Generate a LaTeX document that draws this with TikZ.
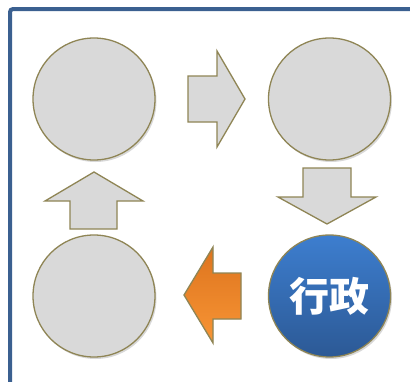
\documentclass[tikz,border=0pt]{standalone}
\usepackage{fontspec}
\newfontfamily\cjk{Noto Sans CJK JP}
\usetikzlibrary{shadows}
\definecolor{frameblue}{HTML}{3B6090}
\definecolor{olive}{HTML}{8F8555}
\definecolor{cgray}{HTML}{D9D9D9}
\definecolor{btop}{HTML}{3D7ECF}
\definecolor{bbot}{HTML}{2C5995}
\definecolor{otop}{HTML}{DD741E}
\definecolor{obot}{HTML}{F89535}
\tikzset{
  bubble/.style={circle, minimum size=122pt, inner sep=0pt, draw=olive, line width=1.3pt, fill=cgray,
    drop shadow={shadow xshift=1.5pt, shadow yshift=-2pt, opacity=0.25, fill=black!60}},
  arrowshape/.style={draw=olive, line width=1.3pt, fill=cgray, line join=miter}
}
\begin{document}
\begin{tikzpicture}[x=1pt,y=-1pt]
\useasboundingbox (0,0) rectangle (410,381);
\fill[white] (0,0) rectangle (410,381);
\begin{scope}
\clip (0,0) rectangle (410,381);
\draw[frameblue, line width=4pt, rounded corners=3pt] (10,9) rectangle (430,400);
\end{scope}
% circles
\node[bubble] (tl) at (94,99) {};
\node[bubble] (tr) at (329.5,99) {};
\node[bubble] (bl) at (94,296) {};
\node[bubble, top color=btop, bottom color=bbot, text=white, font=\cjk\bfseries\fontsize{40}{40}\selectfont] (br) at (329.5,296) {行政};
% right arrow
\draw[arrowshape] (188,76) -- (217,76) -- (217,51) -- (245,99) -- (217,147) -- (217,122) -- (188,122) -- cycle;
% down arrow
\draw[arrowshape] (303,168) -- (351,168) -- (351,197) -- (376,197) -- (327,224) -- (278,197) -- (303,197) -- cycle;
% up arrow
\draw[arrowshape] (70,229) -- (70,201) -- (45,201) -- (94,172) -- (143,201) -- (117,201) -- (117,229) -- cycle;
% left arrow (orange)
\draw[arrowshape, top color=otop, bottom color=obot] (241,273) -- (213,273) -- (213,247) -- (184,295) -- (213,343) -- (213,319) -- (241,319) -- cycle;
\end{tikzpicture}
\end{document}
